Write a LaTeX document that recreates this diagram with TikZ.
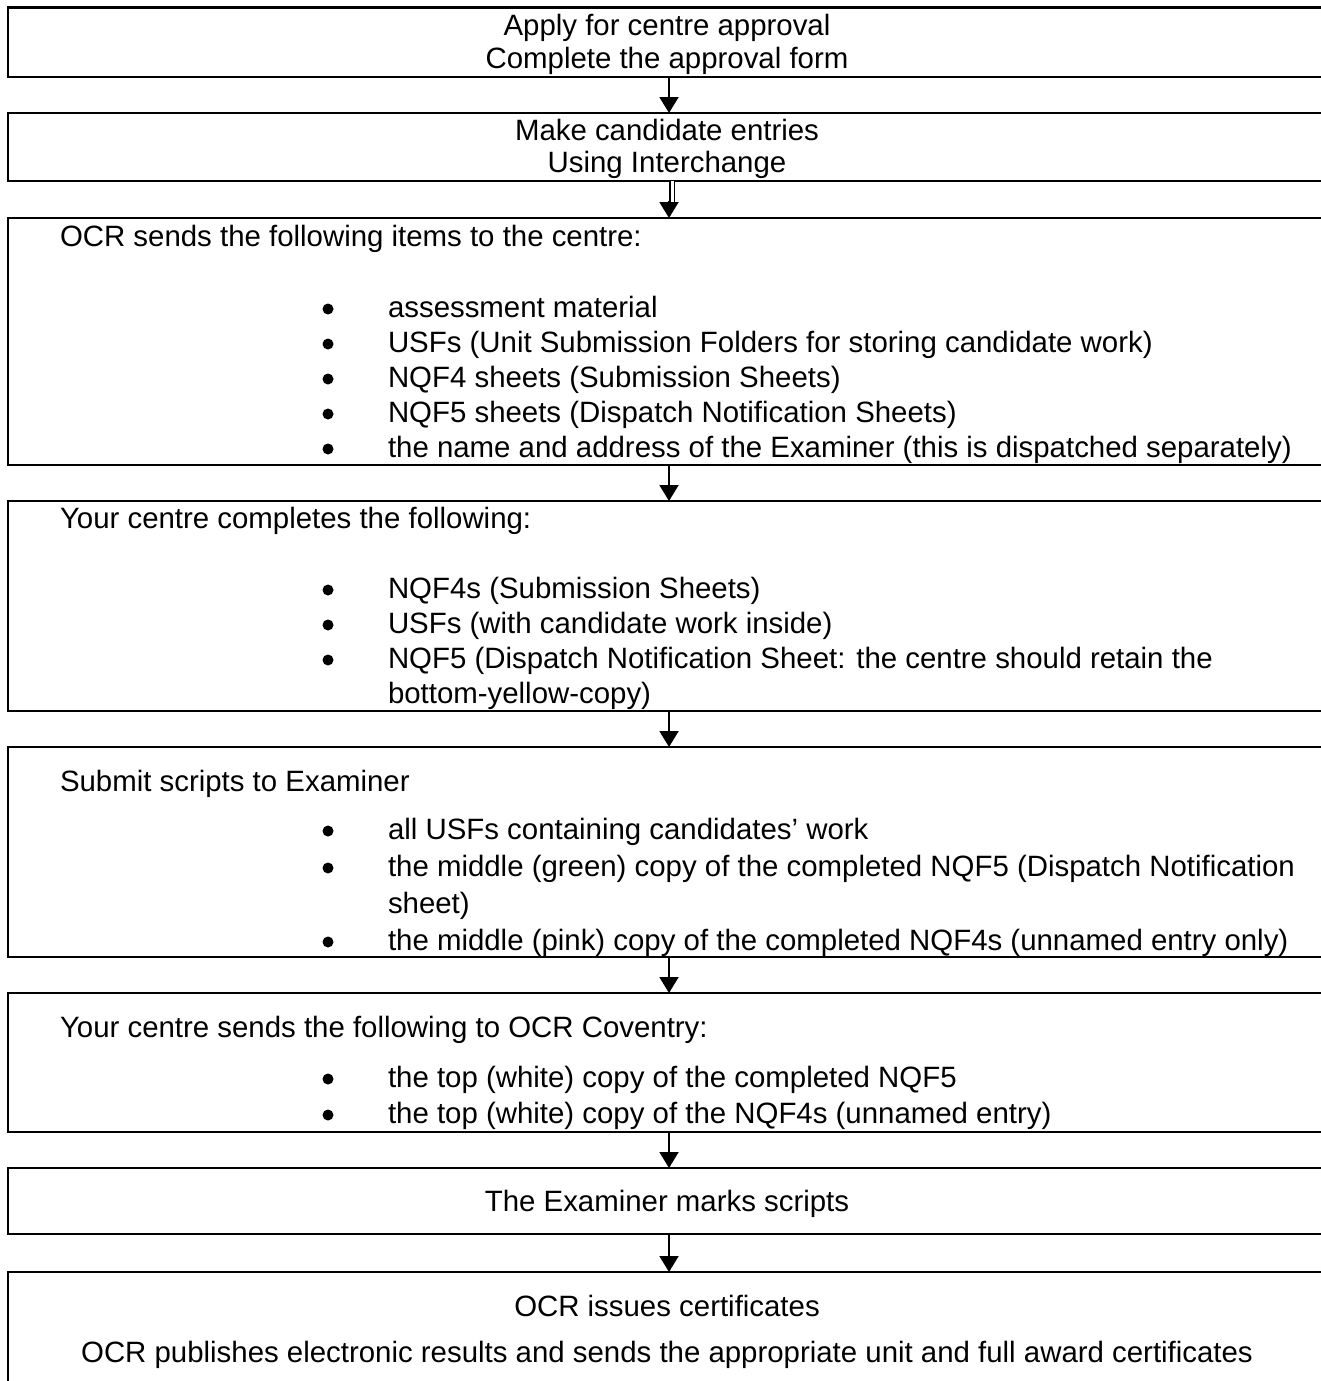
\documentclass[tikz,border=0pt]{standalone}
\usepackage{fontspec}
\setmainfont{Liberation Sans}
\usetikzlibrary{arrows.meta,calc}
\begin{document}
\begin{tikzpicture}[x=1pt,y=-1pt,
  box/.style={draw, line width=2.2pt, rectangle, inner sep=0pt, outer sep=0pt, minimum width=1340pt, anchor=north west},
  txt/.style={inner sep=0pt, outer sep=0pt, font=\fontsize{29.4}{35}\selectfont},
  lt/.style={txt, anchor=base west},
  ct/.style={txt, anchor=base},
  bul/.style={circle, fill, draw=none, inner sep=0pt, minimum size=11pt, yshift=8pt},
  arr/.style={line width=2pt, -{Triangle[width=19pt,length=16pt]}},
  dshaft/.style={line width=1.3pt, double, double distance=3pt}]
\clip (0,0) rectangle (1321,1381);
% boxes
\node[box, minimum height=69.5pt] (b1) at (8,7.5) {};
\node[box, minimum height=68pt] (b2) at (8,113) {};
\node[box, minimum height=247pt] (b3) at (8,218) {};
\node[box, minimum height=210pt] (b4) at (8,501) {};
\node[box, minimum height=210pt] (b5) at (8,747) {};
\node[box, minimum height=139pt] (b6) at (8,993) {};
\node[box, minimum height=66pt] (b7) at (8,1168) {};
\node[box, minimum height=140pt] (b8) at (8,1272) {};
\coordinate (ax) at (669,0);
\coordinate (ax2) at (672,0);
% box 1
\node[ct] (t1a) at (667,36) {Apply for centre approval};
\node[ct] (t1b) at (667,69) {Complete the approval form};
% box 2
\node[ct] (t2a) at (667,140) {Make candidate entries};
\node[ct] (t2b) at (667,172) {Using Interchange};
% box 3
\node[lt] (t3h) at (60,246) {OCR sends the following items to the centre:};
\foreach \y/\n in {317/1,352/2,387/3,422/4,457/5}{\node[bul] (t3d\n) at (328,\y) {};}
\node[lt] (t3a) at (388,317) {assessment material};
\node[lt] (t3b) at (388,352) {USFs (Unit Submission Folders for storing candidate work)};
\node[lt] (t3c) at (388,387) {NQF4 sheets (Submission Sheets)};
\node[lt] (t3e) at (388,422) {NQF5 sheets (Dispatch Notification Sheets)};
\node[lt] (t3f) at (388,457) {the name and address of the Examiner (this is dispatched separately)};
% box 4
\node[lt] (t4h) at (60,528) {Your centre completes the following:};
\foreach \y/\n in {598/1,633/2,668/3}{\node[bul] (t4d\n) at (328,\y) {};}
\node[lt] (t4a) at (388,598) {NQF4s (Submission Sheets)};
\node[lt] (t4b) at (388,633) {USFs (with candidate work inside)};
\node[lt] (t4c) at (388,668) {NQF5 (Dispatch Notification Sheet: the centre should retain the};
\node[lt] (t4e) at (388,703) {bottom-yellow-copy)};
% box 5
\node[lt] (t5h) at (60,791) {Submit scripts to Examiner};
\foreach \y/\n in {839/1,876/2,950/3}{\node[bul] (t5d\n) at (328,\y) {};}
\node[lt] (t5a) at (388,839) {all USFs containing candidates’ work};
\node[lt] (t5b) at (388,876) {the middle (green) copy of the completed NQF5 (Dispatch Notification};
\node[lt] (t5c) at (388,913) {sheet)};
\node[lt] (t5e) at (388,950) {the middle (pink) copy of the completed NQF4s (unnamed entry only)};
% box 6
\node[lt] (t6h) at (60,1037) {Your centre sends the following to OCR Coventry:};
\foreach \y/\n in {1087/1,1123/2}{\node[bul] (t6d\n) at (328,\y) {};}
\node[lt] (t6a) at (388,1087) {the top (white) copy of the completed NQF5};
\node[lt] (t6b) at (388,1123) {the top (white) copy of the NQF4s (unnamed entry)};
% box 7
\node[ct] (t7a) at (667,1211) {The Examiner marks scripts};
% box 8
\node[ct] (t8a) at (667,1316) {OCR issues certificates};
\node[ct] (t8b) at (667,1362) {OCR publishes electronic results and sends the appropriate unit and full award certificates};
% connectors
\draw[arr] (b1.south -| ax) -- (b2.north -| ax);
\draw[dshaft] (b2.south -| ax2) -- ($(b3.north -| ax2)+(0,-14)$);
\draw[arr] ($(b3.north -| ax)+(0,-17)$) -- (b3.north -| ax);
\draw[arr] (b3.south -| ax) -- (b4.north -| ax);
\draw[arr] (b4.south -| ax) -- (b5.north -| ax);
\draw[arr] (b5.south -| ax) -- (b6.north -| ax);
\draw[arr] (b6.south -| ax) -- (b7.north -| ax);
\draw[arr] (b7.south -| ax) -- (b8.north -| ax);
\end{tikzpicture}
\end{document}
